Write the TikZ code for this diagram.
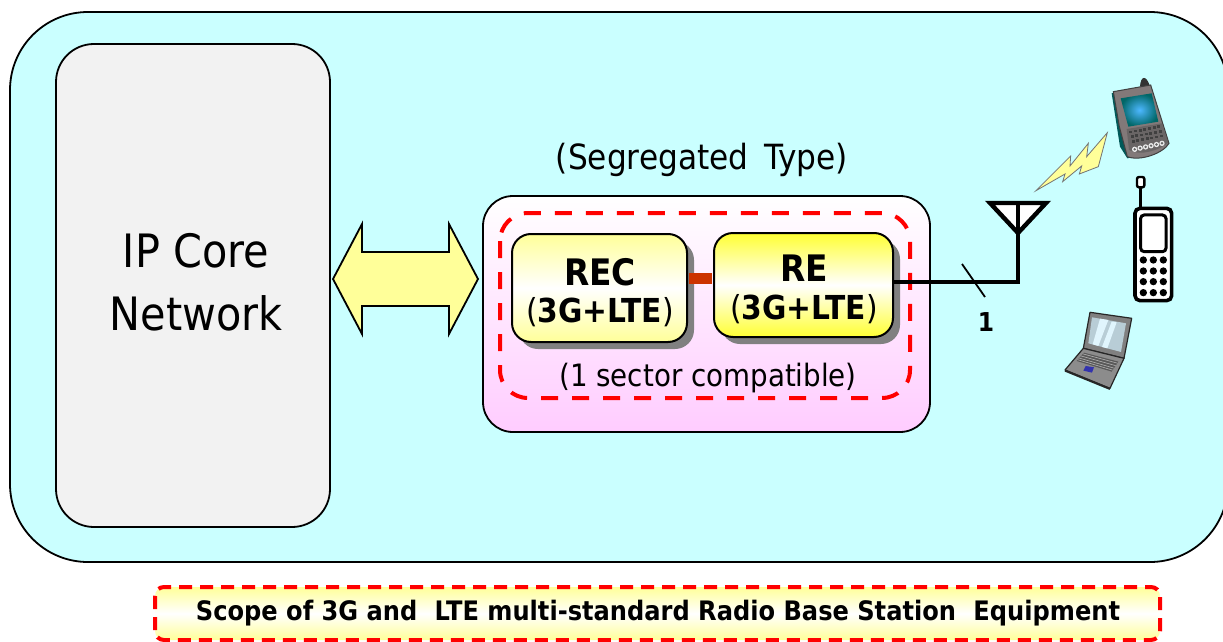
\documentclass[tikz,border=0pt]{standalone}
\usepackage{fontspec}
\setmainfont[FakeStretch=0.9]{DejaVu Sans}
\usetikzlibrary{calc}
\definecolor{sky}{HTML}{CAFFFF}
\definecolor{coreg}{HTML}{F2F2F2}
\definecolor{pinkb}{HTML}{FFCCFF}
\definecolor{yelL}{HTML}{FFFF99}
\definecolor{yelS}{HTML}{FFFF33}
\definecolor{brick}{HTML}{CC3300}
\definecolor{redd}{HTML}{FF0000}
\definecolor{shad}{HTML}{808080}
\tikzset{
  areabox/.style={draw=black,line width=1.8pt,rounded corners=#1},
  dashbox/.style={draw=redd,line width=4pt,dash pattern=on 17pt off 14pt},
  unitbox/.style={draw=black,line width=2pt,rounded corners=19pt,inner sep=0pt},
  lbl/.style={inner sep=0pt,align=center,text=black},
  wire/.style={draw=black,line width=4.4pt},
  devline/.style={draw=black,line width=3.6pt,rounded corners=5pt},
}
\begin{document}
\begin{tikzpicture}[x=1pt,y=-1pt]
\useasboundingbox (0,0) rectangle (1223,642);
\clip (0,0) rectangle (1223,642);
\fill[white] (0,0) rectangle (1223,642);
% outer area
\draw[areabox=78pt,fill=sky] (10,12) rectangle (1228,562);
\draw[areabox=38pt,fill=coreg] (56,44) rectangle (330,527);
\node[lbl,font=\fontsize{46}{63}\selectfont] (core) at (196,282) {IP Core\\Network};
% double arrow
\draw[line width=1.8pt,fill=yelL,line join=miter]
  (333,279) -- (362,224) -- (362,252) -- (449,252) -- (449,224) -- (478,279)
  -- (449,334) -- (449,306) -- (362,306) -- (362,334) -- cycle;
% equipment group
\node[lbl,font=\fontsize{34.7}{42}\selectfont] (segt) at (702,160) {(Segregated\, Type)};
\draw[areabox=30pt,top color=white,bottom color=pinkb] (483,196) rectangle (930,432);
\draw[dashbox,rounded corners=28pt] (500,213) rectangle (910,398);
\fill[shad,rounded corners=19pt] (519,241) rectangle (694,349);
\fill[shad,rounded corners=19pt] (721,240) rectangle (900,344);
\node[unitbox,minimum width=175pt,minimum height=108pt,top color=yelL,bottom color=yelL,middle color=white] (rec) at (599.5,288) {};
\node[unitbox,minimum width=179pt,minimum height=104pt,top color=yelS,bottom color=yelS,middle color=white] (re) at (803.5,285) {};
\draw[brick,line width=11pt] ($(rec.east)+(1,-10)$) -- ($(re.west)+(-1,-7)$);
\node[lbl,font=\fontsize{36.5}{40}\selectfont\bfseries] at (600,272) {REC};
\node[lbl,font=\fontsize{33}{38}\selectfont] at (600,312) {(\textbf{3G+LTE})};
\node[lbl,font=\fontsize{36.5}{40}\selectfont\bfseries] at (804,268) {RE};
\node[lbl,font=\fontsize{33}{38}\selectfont] at (804,309) {(\textbf{3G+LTE})};
\node[lbl,font=\fontsize{30.8}{36}\selectfont] (sect) at (708,378) {(1 sector compatible)};
% antenna
\coordinate (apex) at (1018,233);
\coordinate (tl) at (990,203);
\coordinate (tr) at (1046,203);
\coordinate (corner) at (1018,282);
\fill[white] (tl) -- (tr) -- (apex) -- cycle;
\draw[wire,line join=miter] (tl) -- (tr) -- (apex) -- cycle;
\draw[wire,line join=miter] (1018,203) -- (corner) -- (re.east|-corner);
\draw[black,line width=1.8pt] (962,264) -- (985,297);
\node[lbl,font=\fontsize{26}{30}\selectfont\bfseries] (one) at (986,322) {1};
% devices drawn in zoom coordinates
\begin{scope}[shift={(1020,60)},x=0.3333pt,y=-0.3333pt]
 % lightning
 \draw[black!55,line width=.8pt,fill=yelL,line join=miter]
   (48,392) -- (152,288) -- (150,318) -- (205,250) -- (200,290) -- (262,218)
   -- (235,320) -- (178,342) -- (185,318) -- (128,365) -- (135,342) -- cycle;
 % pda
 \fill[black!80] (360,80) .. controls (362,45) and (380,45) .. (390,80) -- cycle;
 \fill[teal!70!black] (275,100) -- (300,260) -- (322,295) -- (345,290) -- (300,95) -- cycle;
 \draw[black!75,line width=1pt,fill=black!30!red!5!gray]
   (280,95) -- (392,75) -- (447,250) .. controls (430,280) and (360,305) .. (322,290) -- (298,200) -- cycle;
 \fill[black!65,opacity=.6] (320,207) -- (425,190) -- (445,248) .. controls (420,270) and (360,290) .. (327,270) -- cycle;
 \shade[inner color=cyan!60!blue!70!white,outer color=teal!80!black]
   (302,115) -- (395,100) -- (415,185) -- (325,200) -- cycle;
 \foreach \i in {0,1,2,3,4,5}{\fill[white!85!gray] ($(344,268)!\i/5!(426,250)$) circle (8);
   \fill[black!60] ($(344,268)!\i/5!(426,250)$) circle (4);}
 \foreach \r in {0,1,2}\foreach \c in {0,...,6}{
   \fill[black!75] ($(328,212)+(\c*14,-\c*2.6)+(\r*3.5,\r*14)$) rectangle ++(9,8);}
 % mobile phone
 \draw[devline,fill=white] (345,445) rectangle (455,722);
 \draw[black,line width=3pt,rounded corners=3.5pt] (362,465) rectangle (438,575);
 \draw[black,line width=2.4pt] (362,445) -- (362,382);
 \draw[black,line width=2.4pt,fill=white,rounded corners=2pt] (351,351) rectangle (373,382);
 \foreach \yy in {600,633,665,698}\foreach \xx in {370,400,430}{
   \fill[black] (\xx,\yy) circle (11);}
 % laptop
 \draw[black!85,line width=1.2pt,fill=black!50,line join=round] (210,757) -- (335,775) -- (312,895) -- (190,865) -- cycle;
 \fill[cyan!30!gray!50!white] (216,772) -- (318,790) -- (303,876) -- (205,850) -- cycle;
 \fill[white!60!cyan!30!white] (240,776) -- (265,780) -- (235,858) -- (218,853) -- cycle;
 \fill[white!60!cyan!30!white] (275,785) -- (290,787) -- (262,865) -- (246,861) -- cycle;
 \draw[black!85,line width=1.2pt,fill=black!45,line join=round] (190,865) -- (135,930) -- (270,985) -- (312,895) -- cycle;
 \fill[black!65] (192,878) -- (170,903) -- (275,935) -- (295,905) -- cycle;
 \foreach \t in {0.15,0.4,0.65,0.85}{\draw[black!30,line width=.6pt] ($(192,878)!\t!(170,903)$) -- ($(295,905)!\t!(275,935)$);}
 \fill[blue!60!black!80] (197,918) -- (222,922) -- (216,938) -- (190,932) -- cycle;
 \draw[black!85,line width=2pt] (135,932) -- (270,987);
\end{scope}
% legend
\draw[dashbox,rounded corners=9pt,top color=yelL,bottom color=yelL,middle color=white,dash pattern=on 13pt off 8pt] (155,587) rectangle (1160,640);
\node[lbl,font=\fontsize{26.8}{30}\selectfont\bfseries] (leg) at (658,613) {Scope of 3G and\,\, LTE multi-standard Radio Base Station\,\, Equipment};
\end{tikzpicture}
\end{document}
